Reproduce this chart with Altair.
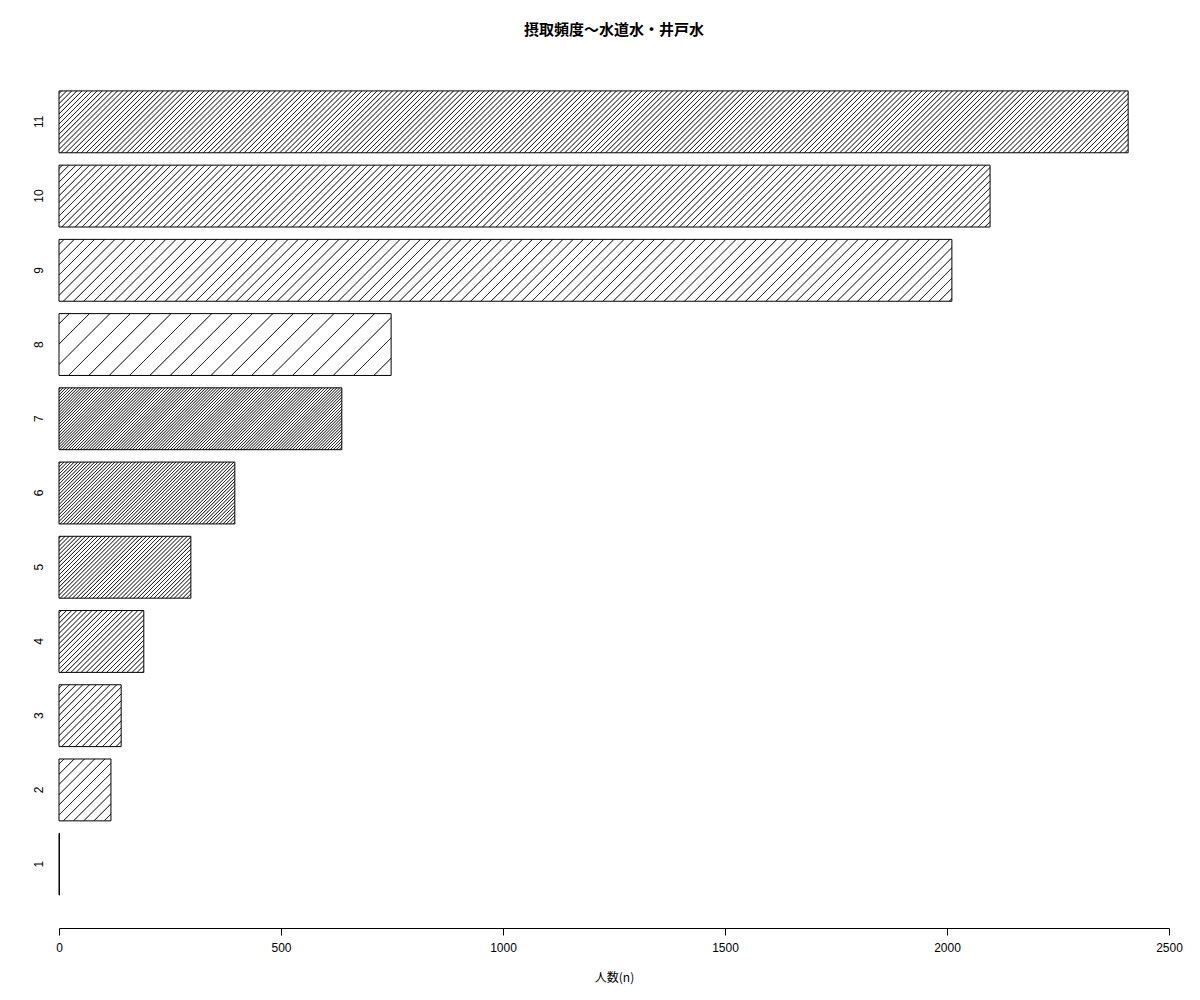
import math
import altair as alt
import pandas as pd

# ---- data ----
categories = ["1", "2", "3", "4", "5", "6", "7", "8", "9", "10", "11"]
counts = [1, 117, 140, 191, 297, 396, 637, 748, 2011, 2097, 2408]
densities = [5, 10, 15, 20, 25, 30, 35, 5, 10, 15, 20]  # hatch lines per inch
x_ticks = [0, 500, 1000, 1500, 2000, 2500]
title_text = "摂取頻度〜水道水・井戸水"
x_title = "人数(n)"

df = pd.DataFrame({"cat": categories, "count": counts})

PLOT_W = 1110
PLOT_H = 868
XMAX = 2500
N = len(categories)
P_IN = 0.2 / 1.2
P_OUT = 0.43
step = PLOT_H / (N - P_IN + 2 * P_OUT)
BW = step * (1 - P_IN)


def hatch(value, density):
    W = value / XMAX * PLOT_W
    H = BW
    if W < 2:
        return "white"
    spacing = math.sqrt(2) * 72.0 / density  # horizontal spacing in px
    L = W + H
    s = L * W / (W * W + H * H)
    stops = [{"offset": 0, "color": "white"}]
    c = spacing / 2
    while c < L + 1.5:
        for d, col in [(-0.95, "white"), (-0.2, "#2a2a2a"), (0.2, "#2a2a2a"), (0.95, "white")]:
            o = (c + d) / L
            if 0 <= o <= 1:
                stops.append({"offset": round(o, 6), "color": col})
        c += spacing
    stops.append({"offset": 1, "color": "white"})
    return {"gradient": "linear", "x1": 0, "y1": 0, "x2": s, "y2": s * H / W, "stops": stops}


x_enc = alt.X(
    "count:Q",
    scale=alt.Scale(domain=[0, XMAX], nice=False, zero=True),
    axis=alt.Axis(
        values=x_ticks, format="d", title=x_title,
        titleFont="Noto Sans CJK JP", titleFontSize=12, titleFontWeight="normal",
        titleColor="black", titlePadding=19,
        labelFont="Liberation Sans", labelFontSize=12, labelColor="black",
        labelPadding=7, labelFlush=False, labelOverlap=False,
        tickSize=7, tickColor="black", tickWidth=1,
        domainColor="black", domainWidth=1, grid=False, offset=1,
    ),
)
y_enc = alt.Y(
    "cat:N",
    scale=alt.Scale(domain=categories[::-1], paddingInner=P_IN, paddingOuter=P_OUT),
    axis=alt.Axis(
        title=None, domain=False, ticks=False, tickSize=0,
        labelAngle=270, labelAlign="center", labelBaseline="middle",
        labelPadding=21, labelFont="Liberation Sans", labelFontSize=12,
        labelColor="black",
    ),
)

layers = []
for cat, val, dens in zip(categories, counts, densities):
    layers.append(
        alt.Chart(df)
        .transform_filter(alt.datum.cat == cat)
        .mark_bar(fill=hatch(val, dens), stroke="black", strokeWidth=1)
        .encode(x=x_enc, y=y_enc)
    )

chart = (
    alt.layer(*layers)
    .properties(
        width=PLOT_W,
        height=PLOT_H,
        autosize=alt.AutoSizeParams(type="none"),
        padding={"left": 51, "top": 51, "right": 23, "bottom": 65},
        title=alt.TitleParams(
            title_text, font="Noto Sans CJK JP", fontSize=15, fontWeight="bold",
            color="black", anchor="middle", offset=21,
        ),
        background="white",
    )
    .configure_view(stroke=None)
)

chart.save("out.html", embed_options={"renderer": "svg", "actions": False})
